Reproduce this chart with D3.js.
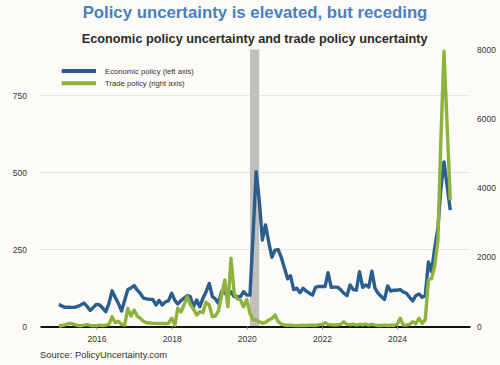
<!DOCTYPE html>
<html><head><meta charset="utf-8">
<script src="https://cdn.jsdelivr.net/npm/d3@7"></script>
<style>
body{margin:0;background:#fcfbf8;}
svg{display:block;font-family:"Liberation Sans",Arial,sans-serif;}
</style>
</head><body>
<svg id="c" width="500" height="365"></svg>
<script>
// ---- data (monthly, Jan 2015 - Jun 2025) ----
const startDate = [2015, 0];
const epu = [
  72, 66, 62, 63, 62, 62, 65, 70, 76, 66, 52, 62,          // 2015
  72, 70, 60, 48, 75, 116, 95, 75, 50, 85, 120, 125,       // 2016
  133, 118, 108, 92, 90, 88, 88, 70, 85, 70, 80, 83,       // 2017
  108, 85, 73, 84, 92, 100, 97, 64, 86, 64, 92, 112,       // 2018
  140, 97, 90, 75, 113, 108, 100, 113, 97, 97, 97, 113,    // 2019
  102, 102, 290, 503, 411, 281, 330, 275, 225, 248, 250, 225, // 2020
  190, 155, 165, 120, 124, 110, 124, 115, 108, 102, 128, 130, // 2021
  130, 130, 175, 127, 128, 128, 120, 108, 100, 135, 120, 118, // 2022
  178, 127, 135, 128, 180, 124, 108, 97, 88, 132, 115, 118,  // 2023
  118, 120, 112, 108, 95, 83, 100, 106, 95, 100, 210, 178,   // 2024
  255, 320, 445, 535, 460, 378                               // 2025
];
const tpu = [
  15, 30, 45, 80, 90, 55, 30, 20, 40, 55, 30, 20,
  25, 40, 30, 40, 60, 283, 110, 150, 60, 40, 525, 303,
  476, 300, 237, 150, 110, 100, 90, 90, 85, 90, 80, 95,
  237, 40, 525, 420, 620, 860, 640, 500, 332, 427, 400, 700,
  620, 283, 300, 450, 900, 1343, 572, 1970, 959, 800, 765, 570,
  780, 380, 200, 190, 140, 92, 120, 188, 230, 332, 139, 70,
  45, 35, 40, 30, 25, 30, 35, 30, 40, 35, 30, 50,
  60, 110, 60, 50, 45, 50, 60, 139, 60, 50, 70, 40,
  60, 50, 70, 40, 60, 40, 30, 30, 40, 30, 40, 30,
  60, 237, 43, 40, 60, 139, 80, 237, 92, 190, 1350, 1380,
  1750, 2500, 5300, 7950, 5850, 3650
];
const leftTicks = [0, 250, 500, 750];
const rightTicks = [0, 2000, 4000, 6000, 8000];
const xTickYears = [2016, 2018, 2020, 2022, 2024];
const recession = [[2020, 1], [2020, 4]];
const titleText = "Policy uncertainty is elevated, but receding";
const subtitleText = "Economic policy uncertainty and trade policy uncertainty";
const sourceText = "Source: PolicyUncertainty.com";
const seriesNames = ["Economic policy (left axis)", "Trade policy (right axis)"];
const colors = ["#2b5e8e", "#8cb33c"];

// ---- build ----
const svg = d3.select("#c");
svg.append("rect").attr("width", 500).attr("height", 365).attr("fill", "#fcfbf8");

const dates = epu.map((_, i) => new Date(startDate[0], startDate[1] + i, 1));
const x = d3.scaleTime().domain([new Date(2014, 6, 1), new Date(2025, 11, 10)]).range([40, 470]);
const yL = d3.scaleLinear().domain([0, 900]).range([326.5, 49.5]);
const yR = d3.scaleLinear().domain([0, 8000]).range([326.5, 49.5]);

function fit(sel, w) {
  const fs = parseFloat(sel.attr("font-size"));
  const cur = sel.node().getComputedTextLength();
  sel.attr("font-size", (fs * w / cur).toFixed(2));
  return sel;
}

// gridlines
svg.append("g").selectAll("line").data(leftTicks.filter(d => d > 0)).join("line")
  .attr("x1", 40).attr("x2", 470)
  .attr("y1", d => yL(d)).attr("y2", d => yL(d))
  .attr("stroke", "#e4e3e0").attr("stroke-width", 1);

// recession band
svg.append("rect")
  .attr("x", x(new Date(recession[0][0], recession[0][1], 1)))
  .attr("width", x(new Date(recession[1][0], recession[1][1], 1)) - x(new Date(recession[0][0], recession[0][1], 1)))
  .attr("y", yL(900)).attr("height", yL(0) - yL(900))
  .attr("fill", "#c0bfbb");

// axes
const gL = svg.append("g").attr("transform", "translate(40,0)")
  .call(d3.axisLeft(yL).tickValues(leftTicks).tickFormat(d3.format("d")).tickSize(0).tickPadding(13));
gL.select(".domain").remove();
gL.selectAll("text").attr("font-size", 8.5).attr("fill", "#333").attr("font-family", "Liberation Sans, Arial, sans-serif");

const gR = svg.append("g").attr("transform", "translate(470,0)")
  .call(d3.axisRight(yR).tickValues(rightTicks).tickFormat(d3.format("d")).tickSize(0).tickPadding(7));
gR.select(".domain").remove();
gR.selectAll("text").attr("font-size", 8.5).attr("fill", "#333").attr("font-family", "Liberation Sans, Arial, sans-serif");

const gX = svg.append("g").attr("transform", "translate(0,326.5)")
  .call(d3.axisBottom(x).tickValues(xTickYears.map(y => new Date(y, 0, 1)))
    .tickFormat(d3.timeFormat("%Y")).tickSize(3).tickSizeOuter(0).tickPadding(6));
gX.select(".domain").attr("stroke", "#111").attr("stroke-width", 2);
gX.selectAll(".tick line").attr("stroke", "#888");
gX.selectAll("text").attr("font-size", 8.5).attr("fill", "#333").attr("font-family", "Liberation Sans, Arial, sans-serif");

// lines
const lineL = d3.line().x((d, i) => x(dates[i])).y(d => yL(d));
const lineR = d3.line().x((d, i) => x(dates[i])).y(d => yR(d));
svg.append("path").datum(epu).attr("d", lineL).attr("fill", "none")
  .attr("stroke", colors[0]).attr("stroke-width", 3.4).attr("stroke-linejoin", "round");
svg.append("path").datum(tpu).attr("d", lineR).attr("fill", "none")
  .attr("stroke", colors[1]).attr("stroke-width", 3.4).attr("stroke-linejoin", "round");

// legend
const leg = svg.append("g");
seriesNames.forEach((name, i) => {
  const yy = 71 + i * 12.3;
  leg.append("line").attr("x1", 61.7).attr("x2", 96).attr("y1", yy).attr("y2", yy)
    .attr("stroke", colors[i]).attr("stroke-width", 4);
  const t = leg.append("text").attr("x", 105).attr("y", yy + 2.7).attr("font-size", 7.5)
    .attr("fill", "#333").text(name);
  if (i === 0) fit(t, 89);
  else t.attr("font-size", leg.select("text").attr("font-size"));
});

// titles
const tt = svg.append("text").attr("x", 255).attr("y", 17.5).attr("text-anchor", "middle")
  .attr("font-size", 18).attr("font-weight", "bold").attr("fill", "#4a7fc0").text(titleText);
fit(tt, 345);
const st = svg.append("text").attr("x", 254.7).attr("y", 43).attr("text-anchor", "middle")
  .attr("font-size", 13).attr("font-weight", "bold").attr("fill", "#2a2a2a").text(subtitleText);
fit(st, 346);
const so = svg.append("text").attr("x", 40).attr("y", 357.5).attr("font-size", 9.5)
  .attr("fill", "#333").text(sourceText);
fit(so, 127);
</script>
</body></html>
